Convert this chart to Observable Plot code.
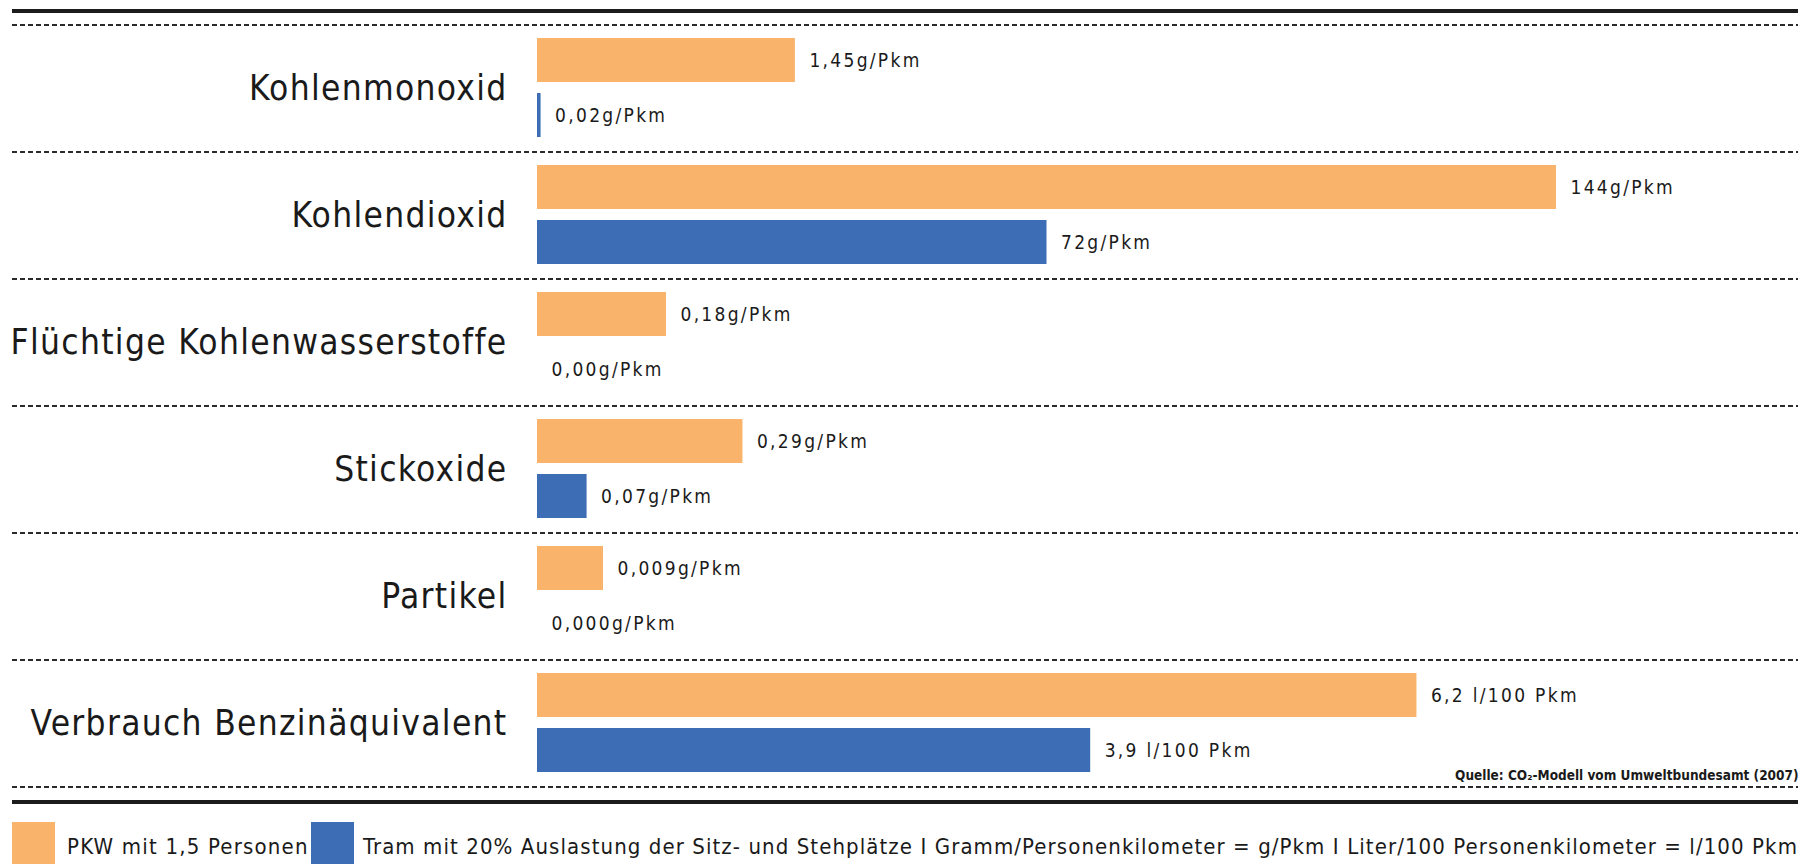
<!DOCTYPE html>
<html><head><meta charset="utf-8">
<script src="https://cdn.jsdelivr.net/npm/d3@7"></script>
<script src="https://cdn.jsdelivr.net/npm/@observablehq/plot@0.6"></script>
<style>
body{margin:0;background:#fff;}
#root{position:relative;width:1807px;height:864px;overflow:hidden;font-family:"DejaVu Sans Condensed","DejaVu Sans",sans-serif;color:#1a1a1a;}
.thick{position:absolute;left:12px;width:1786px;height:4px;background:#1c1c1c;}
.dash{position:absolute;left:12px;width:1786px;height:2px;background:repeating-linear-gradient(to right,#2a2a2a 0 5px,transparent 5px 8px);z-index:2;}
.group{position:absolute;left:0;}
.sw{position:absolute;top:822px;width:43px;height:42px;}
.lt{position:absolute;top:832px;font-size:22px;letter-spacing:1.2px;white-space:nowrap;line-height:30px;}
.group g[font-size="35"] text{letter-spacing:1.3px;}
.group g[font-size="19"] text{letter-spacing:2.3px;}
</style></head>
<body><div id="root"></div>
<script>
const categories = ["Kohlenmonoxid","Kohlendioxid","Flüchtige Kohlenwasserstoffe","Stickoxide","Partikel","Verbrauch Benzinäquivalent"];
const series = ["PKW mit 1,5 Personen","Tram mit 20% Auslastung der Sitz- und Stehplätze"];
const pkwValues = [1.45, 144, 0.18, 0.29, 0.009, 6.2];
const tramValues = [0.02, 72, 0.00, 0.07, 0.000, 3.9];
const pkwLabels = ["1,45g/Pkm","144g/Pkm","0,18g/Pkm","0,29g/Pkm","0,009g/Pkm","6,2 l/100 Pkm"];
const tramLabels = ["0,02g/Pkm","72g/Pkm","0,00g/Pkm","0,07g/Pkm","0,000g/Pkm","3,9 l/100 Pkm"];
// full-width value of each category's own horizontal scale
const scaleMax = [7.09, 178.2, 1.76, 1.78, 0.172, 8.89];
const colors = ["#F9B36A","#3D6DB5"];
const unitsNote = " I Gramm/Personenkilometer = g/Pkm I Liter/100 Personenkilometer = l/100 Pkm";
const source = "Quelle: CO₂-Modell vom Umweltbundesamt (2007)";

const root = document.getElementById("root");
const W = 1807, GH = 127, TOP0 = 25;
const font = '"DejaVu Sans Condensed","DejaVu Sans",sans-serif';

function add(cls, style){const d=document.createElement("div");d.className=cls;Object.assign(d.style,style);root.appendChild(d);return d;}

add("thick",{top:"9px"});
categories.forEach((cat,i)=>{
  const rows = [
    {series: series[0], value: pkwValues[i], label: pkwLabels[i]},
    {series: series[1], value: tramValues[i], label: tramLabels[i]}
  ];
  const marks = [
    Plot.barX(rows,{x:"value", y:"series", fill:"series"}),
    Plot.text(rows,{x:"value", y:"series", text:"label", dx:14, textAnchor:"start", fontSize:19, fill:"#1a1a1a"}),
    Plot.text([cat],{frameAnchor:"left", textAnchor:"end", dx:-30, dy:1, fontSize:35, fill:"#1a1a1a"})
  ];
  if (i === categories.length-1) {
    marks.push(Plot.text([source],{frameAnchor:"bottom-right", textAnchor:"end", lineAnchor:"bottom", dy:7, fontSize:13.5, fontWeight:"bold", fill:"#1a1a1a"}));
  }
  const p = Plot.plot({
    width: W, height: GH, marginLeft: 537, marginRight: 9, marginTop: 13, marginBottom: 15,
    style: {fontFamily: font, background: "transparent", overflow: "visible"},
    x: {domain: [0, scaleMax[i]], axis: null},
    y: {domain: series, axis: null, paddingInner: 0.2, paddingOuter: 0},
    color: {domain: series, range: colors},
    marks
  });
  const g = add("group",{top:(TOP0 + i*GH)+"px"});
  g.appendChild(p);
  add("dash",{top:(TOP0 + i*GH - 1)+"px"});
});
add("dash",{top:(TOP0 + categories.length*GH - 1)+"px"});
add("thick",{top:"800px"});

// legend
add("sw",{left:"12px",background:colors[0]});
const l1 = add("lt",{left:"67px"}); l1.textContent = series[0];
add("sw",{left:"311px",background:colors[1]});
const l2 = add("lt",{left:"363px"}); l2.textContent = series[1] + unitsNote;
// fit the long legend text into the available width
function fit(el, target){
  const w = el.getBoundingClientRect().width;
  const n = el.textContent.length;
  const ls = parseFloat(getComputedStyle(el).letterSpacing) || 0;
  el.style.letterSpacing = (ls + (target - w) / n) + "px";
}
fit(l2, 1798 - 363);
</script>
</body></html>
